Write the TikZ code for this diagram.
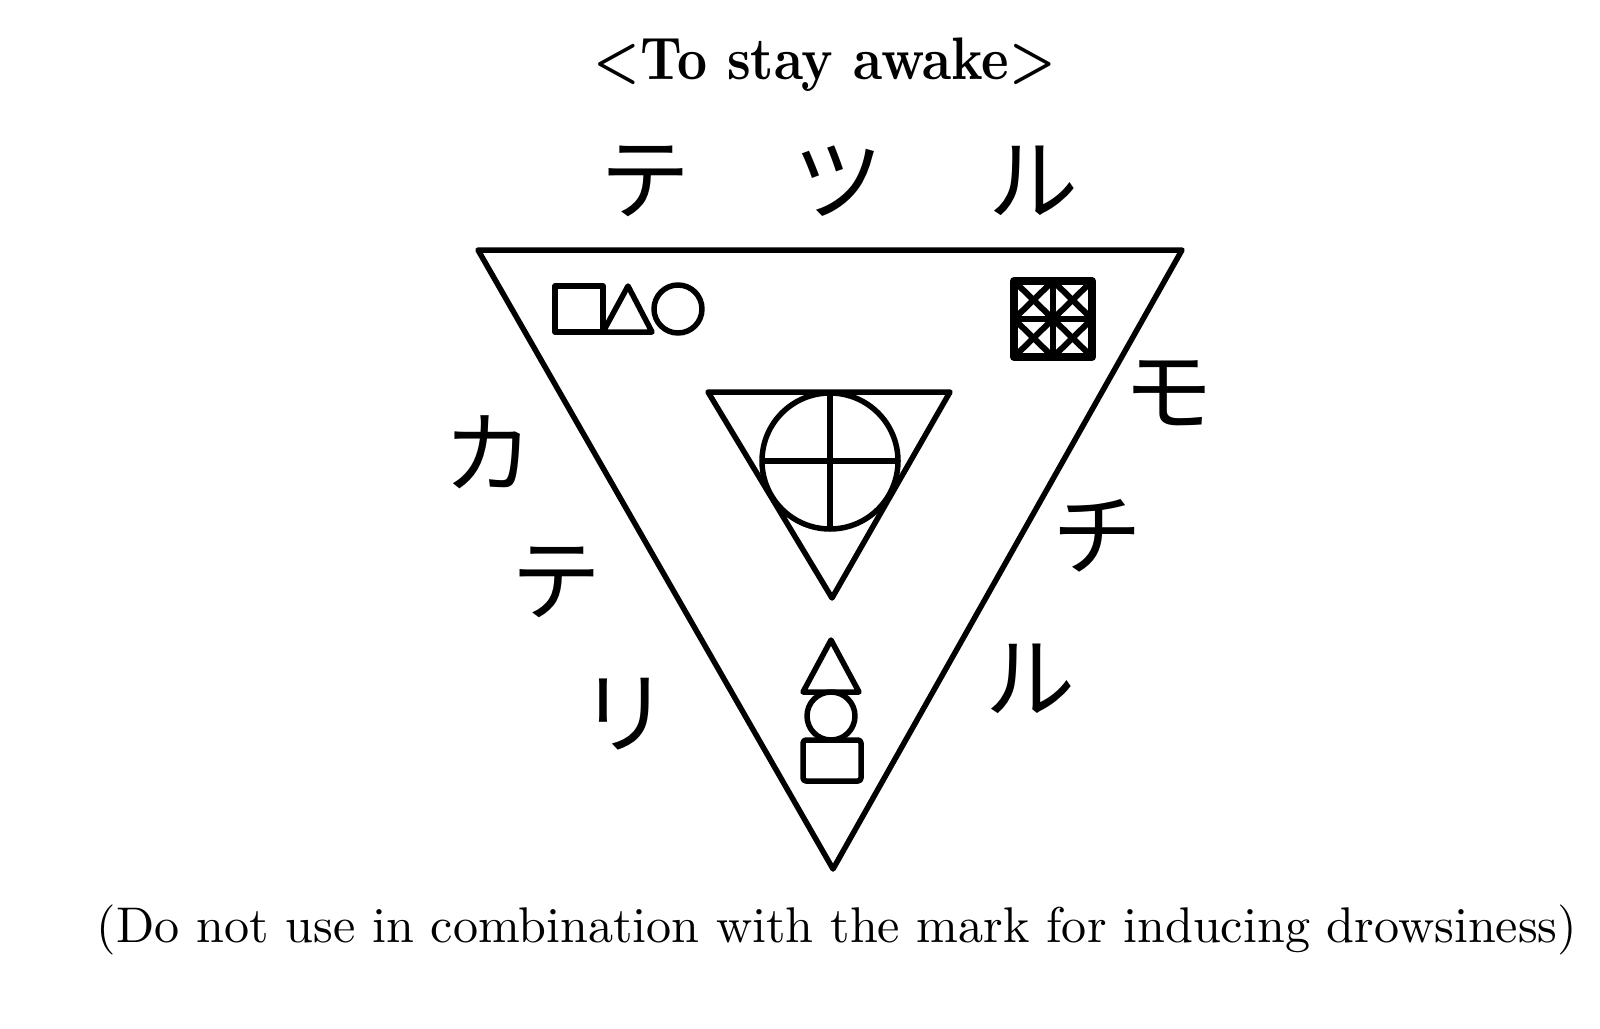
\documentclass[tikz,border=0pt]{standalone}
\usepackage{fontspec}
\newfontfamily\jp{Noto Sans CJK JP}
\begin{document}
\begin{tikzpicture}[x=1pt,y=-1pt,line join=round,
  ln/.style={line width=5.5pt},
  thk/.style={line width=8pt},
  kana/.style={font=\jp\fontsize{90}{90}\selectfont, inner sep=0pt}]
\useasboundingbox[fill=white] (0,0) rectangle (1600,1028);
% title
\node[inner sep=0pt] (title) at (825,65) {\resizebox{462pt}{!}{\scalebox{1}[1.15]{\bfseries\boldmath $<$To stay awake$>$}}};
% top katakana
\node[kana] (k1) at (645,181) {テ};
\node[kana] (k2) at (838,181) {ツ};
\node[kana] (k3) at (1033,181) {ル};
% left katakana
\node[kana] (k4) at (488,452) {カ};
\node[kana] (k5) at (556,582) {テ};
\node[kana] (k6) at (624,714) {リ};
% right katakana
\node[kana] (k7) at (1168,393) {モ};
\node[kana] (k8) at (1097,536) {チ};
\node[kana] (k9) at (1030,679) {ル};
% big triangle
\draw[ln] (478,250) -- (1182,250) -- (833,869) -- cycle;
% top-left symbols
\draw[ln] (555,286) rectangle (603,332);
\draw[ln] (603,332) -- (628,286) -- (652,332) -- cycle;
\draw[ln] (678,309) circle (24);
% top-right grid box
\draw[thk] (1014,281) rectangle (1092,357);
\draw[line width=6pt] (1053,281) -- (1053,357) (1014,319) -- (1092,319);
\draw[line width=6pt] (1014,281) -- (1092,357) (1092,281) -- (1014,357);
\draw[line width=6pt] (1053,281) -- (1014,319) -- (1053,357) -- (1092,319) -- cycle;
% center triangle with circle and cross
\draw[ln] (708,392) -- (950,392) -- (832,598) -- cycle;
\draw[ln] (830,461) circle (68);
\draw[ln] (830,392) -- (830,529) (762,461) -- (898,461);
% bottom stack
\draw[ln] (831,640) -- (859,692) -- (803,692) -- cycle;
\draw[ln] (831,716) circle (24);
\draw[ln,rounded corners=3pt] (803,740) rectangle (861,781);
% bottom note
\node[inner sep=0pt] (note) at (837,930) {\resizebox{1480pt}{!}{(Do not use in combination with the mark for inducing drowsiness)}};
\end{tikzpicture}
\end{document}
